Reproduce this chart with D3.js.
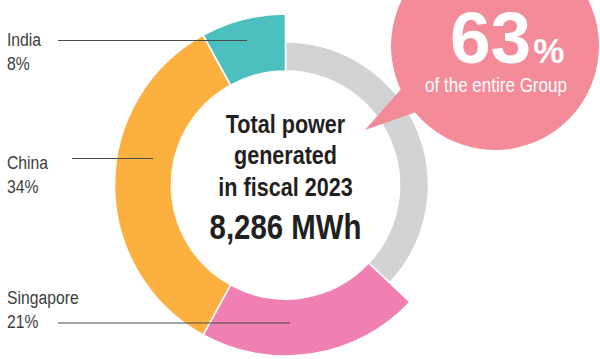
<!DOCTYPE html>
<html>
<head>
<meta charset="utf-8">
<script src="https://cdn.jsdelivr.net/npm/d3@7"></script>
<style>
  html, body { margin: 0; padding: 0; background: #fff; }
  svg { display: block; }
</style>
</head>
<body>
<div id="chart"></div>
<script>
// Share of power generated by region (percent of the Group total)
const regions = ["India", "China", "Singapore"];
const shares = [8, 34, 21];
const regionColors = ["#4bc0bf", "#fbb040", "#f07fb2"];
const restColor = "#d1d3d4";

// Headline figures
const totalLines = ["Total power", "generated", "in fiscal 2023"];
const totalValue = "8,286 MWh";
const groupShare = 63;
const groupShareNote = "of the entire Group";

const W = 600, H = 359;
const cx = 285.5, cy = 185;
const rInner = 114, rOuter = 171, rRest = 143;

const sans = "'Liberation Sans', Arial, Helvetica, sans-serif";

const svg = d3.select("#chart").append("svg")
  .attr("width", W).attr("height", H);

// Condensed lettering: a regular sans squeezed horizontally around its anchor
function condensed(parent, x, y, str, opt) {
  const g = parent.append("g")
    .attr("transform", `translate(${x},${y}) scale(${opt.sx},1)`);
  return g.append("text")
    .attr("x", 0).attr("y", 0)
    .attr("text-anchor", opt.anchor || "start")
    .attr("font-family", sans)
    .attr("font-size", opt.size)
    .attr("font-weight", opt.weight || 400)
    .attr("fill", opt.fill)
    .text(str);
}

// Ring order runs clockwise from 12 o'clock: the remainder first, then the
// listed regions in reverse so that India closes the ring at the top.
const restShare = 100 - d3.sum(shares);
const slices = [{ name: "Rest", value: restShare, color: restColor, outer: rRest }]
  .concat(regions.map((n, i) => ({ name: n, value: shares[i], color: regionColors[i], outer: rOuter })).reverse());

const pie = d3.pie().sort(null).value(d => d.value)
  .startAngle(0).endAngle(2 * Math.PI);

const arc = d3.arc().innerRadius(rInner).outerRadius(d => d.data.outer);

const ring = svg.append("g").attr("transform", `translate(${cx},${cy})`);
ring.selectAll("path")
  .data(pie(slices))
  .join("path")
  .attr("d", arc)
  .attr("fill", d => d.data.color)
  .attr("stroke", "#fff")
  .attr("stroke-width", 1.6)
  .attr("stroke-linejoin", "miter");

// Region labels with leader lines into their segments
const labelLayout = {
  India:     { y: 46,  lineY: 40.5,  x1: 58, x2: 247 },
  China:     { y: 169, lineY: 158.5, x1: 72, x2: 153 },
  Singapore: { y: 304, lineY: 323,   x1: 58, x2: 290 }
};

const labels = svg.append("g");
regions.forEach((name, i) => {
  const L = labelLayout[name];
  labels.append("line")
    .attr("x1", L.x1).attr("x2", L.x2)
    .attr("y1", L.lineY).attr("y2", L.lineY)
    .attr("stroke", "#4a4a4a").attr("stroke-width", 1.1);
  const o = { sx: 0.85, size: 18.5, fill: "#3d3d3d" };
  condensed(labels, 7, L.y, name, o);
  condensed(labels, 7, L.y + 24, shares[i] + "%", o);
});

// Centre caption
const centre = svg.append("g");
const baselines = [133, 164, 195.5];
totalLines.forEach((s, i) => {
  condensed(centre, cx, baselines[i], s,
    { sx: 0.83, size: 26, weight: 700, fill: "#231f20", anchor: "middle" });
});
condensed(centre, cx, 238.5, totalValue,
  { sx: 0.84, size: 35, weight: 700, fill: "#231f20", anchor: "middle" });

// Speech bubble with the Group share
const bx = 495, by = 46, br = 104;
const bubble = svg.append("g");
bubble.append("circle").attr("cx", bx).attr("cy", by).attr("r", br).attr("fill", "#f48b98");
bubble.append("path")
  .attr("d", d3.line()([[402, 88], [365, 130], [422, 110]]) + "Z")
  .attr("fill", "#f48b98");

const big = bubble.append("text").attr("x", 450).attr("y", 63)
  .attr("font-family", sans).attr("font-weight", 700).attr("fill", "#fff");
big.append("tspan").attr("font-size", 73).text(groupShare);
big.append("tspan").attr("font-size", 35).attr("dx", 2).text("%");

condensed(bubble, 496, 92, groupShareNote,
  { sx: 0.83, size: 20.5, fill: "#fff", anchor: "middle" });
</script>
</body>
</html>
